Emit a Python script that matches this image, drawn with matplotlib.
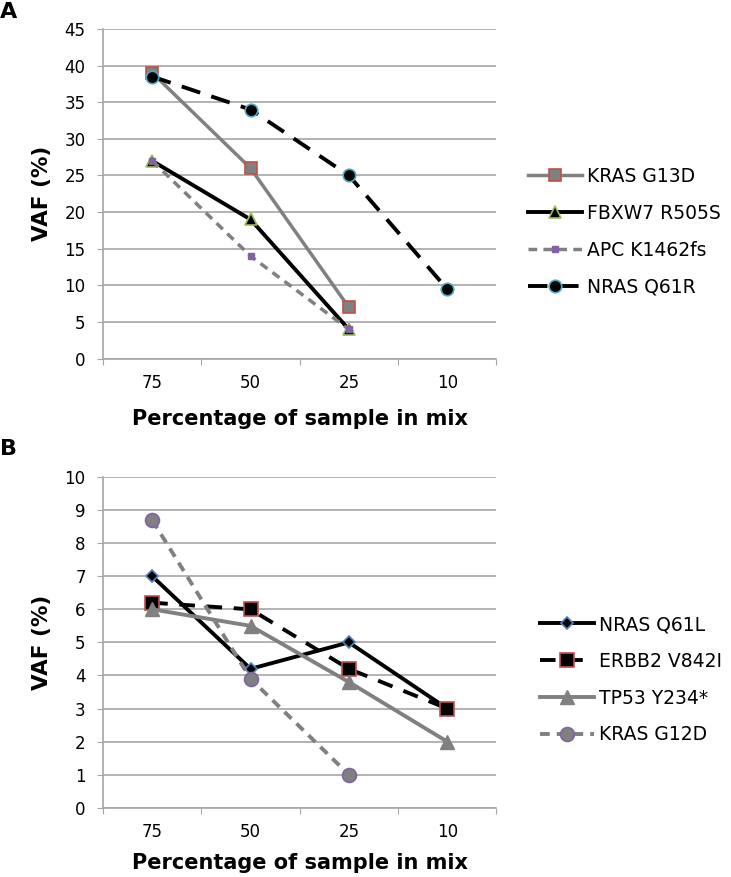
import numpy as np
import matplotlib.pyplot as plt

# x categories (percentage of sample in mix)
mix_labels = ['75', '50', '25', '10']

# panel A values (VAF %)
kras_g13d = [39, 26, 7]
fbxw7_r505s = [27, 19, 4]
apc_k1462fs = [27, 14, 4]
nras_q61r = [38.5, 34, 25, 9.5]

# panel B values (VAF %)
nras_q61l = [7, 4.2, 5, 3]
erbb2_v842i = [6.2, 6, 4.2, 3]
tp53_y234 = [6, 5.5, 3.8, 2]
kras_g12d = [8.7, 3.9, 1]

plt.rcParams['font.family'] = 'DejaVu Sans'
fig = plt.figure(figsize=(7.31, 8.77), dpi=100)

grid_c = '#a6a6a6'
gray = '#808080'


def style_axes(ax, ymax, ystep, xpad):
    n = len(mix_labels)
    ax.set_xlim(0.5, n + 0.5)
    ax.set_ylim(0, ymax)
    ax.set_yticks(np.arange(0, ymax + 0.01, ystep))
    ax.set_xticks(np.arange(0.5, n + 1, 1))
    ax.set_xticklabels([])
    ax.set_xticks(np.arange(1, n + 1), minor=True)
    ax.set_xticklabels(mix_labels, minor=True)
    ax.tick_params(axis='x', which='minor', length=0, pad=11, labelsize=12)
    ax.tick_params(axis='x', which='major', length=4.5, color=grid_c, direction='out')
    ax.tick_params(axis='y', length=4.5, color=grid_c, direction='out', labelsize=12, pad=8)
    ax.yaxis.grid(True, color=grid_c, linewidth=1.2)
    ax.set_axisbelow(True)
    for s in ['top', 'right']:
        ax.spines[s].set_visible(False)
    for s in ['left', 'bottom']:
        ax.spines[s].set_color(grid_c)
        ax.spines[s].set_linewidth(1.2)
    ax.set_ylabel('VAF (%)', fontsize=15.5, fontweight='bold', labelpad=9)
    ax.set_xlabel('Percentage of sample in mix', fontsize=15, fontweight='bold', labelpad=xpad)


leg_kw = dict(frameon=False, fontsize=13.5, handlelength=2.9, labelspacing=0.95,
              handletextpad=0.27, borderaxespad=0, loc='center left')

# ---- panel A
axA = fig.add_axes([0.141, 0.591, 0.538, 0.376])
x = np.arange(1, 5)
axA.plot(x[:3], kras_g13d, color=gray, lw=2.5, marker='s', ms=8, mfc=gray, mec='#c0504d', mew=1.2, label='KRAS G13D')
axA.plot(x[:3], fbxw7_r505s, color='black', lw=2.8, marker='^', ms=9, mfc='black', mec='#9bbb59', mew=1.2, label='FBXW7 R505S')
axA.plot(x[:3], apc_k1462fs, color=gray, lw=2.5, ls=(0, (2.5, 1.8)), marker='s', ms=5, mfc='#8064a2', mec='#8064a2', label='APC K1462fs')
axA.plot(x, nras_q61r, color='black', lw=2.8, ls=(0, (5, 3)), marker='o', ms=9, mfc='black', mec='#4bacc6', mew=1.2, label='NRAS Q61R')
style_axes(axA, 45, 5, 12)
axA.legend(bbox_to_anchor=(1.061, 0.385), **leg_kw)

# ---- panel B
axB = fig.add_axes([0.141, 0.079, 0.538, 0.377])
axB.plot(x, nras_q61l, color='black', lw=2.8, marker='D', ms=6, mfc='black', mec='#4f81bd', mew=1.2, label='NRAS Q61L')
axB.plot(x, erbb2_v842i, color='black', lw=2.8, ls=(0, (4, 3)), marker='s', ms=10, mfc='black', mec='#c0504d', mew=1.2, label='ERBB2 V842I')
axB.plot(x, tp53_y234, color=gray, lw=2.8, marker='^', ms=10, mfc=gray, mec=gray, label='TP53 Y234*')
axB.plot(x[:3], kras_g12d, color=gray, lw=2.8, ls=(0, (2.5, 1.8)), marker='o', ms=10, mfc=gray, mec='#8064a2', mew=1.2, label='KRAS G12D')
style_axes(axB, 10, 1, 9)
axB.legend(bbox_to_anchor=(1.092, 0.387), **leg_kw)

fig.text(0.0, 0.998, 'A', fontsize=16, fontweight='bold', va='top')
fig.text(0.0, 0.499, 'B', fontsize=16, fontweight='bold', va='top')

fig.savefig('out.png', dpi=100)
